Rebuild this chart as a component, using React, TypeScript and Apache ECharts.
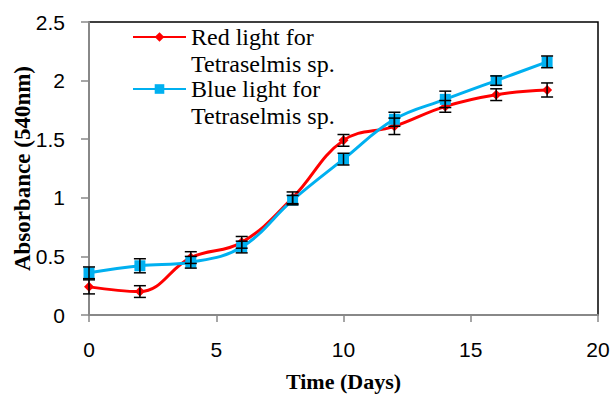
import React, { useEffect, useRef } from "react";
import * as echarts from "echarts";

const days = [0, 2, 4, 6, 8, 10, 12, 14, 16, 18];
const redValues = [0.24, 0.2, 0.49, 0.62, 1.0, 1.49, 1.61, 1.78, 1.88, 1.92];
const redErrors = [0.06, 0.05, 0.05, 0.05, 0.05, 0.05, 0.07, 0.05, 0.05, 0.06];
const blueValues = [0.36, 0.42, 0.45, 0.58, 0.98, 1.33, 1.67, 1.84, 2.0, 2.16];
const blueErrors = [0.05, 0.06, 0.05, 0.05, 0.04, 0.05, 0.06, 0.07, 0.04, 0.05];
const redName = "Red light for\nTetraselmis sp.";
const blueName = "Blue light for\nTetraselmis sp.";

const serif = "Liberation Serif";
const sans = "Liberation Sans";

function errorSeries(values: number[], errors: number[]) {
  return {
    type: "custom",
    z: 5,
    silent: true,
    data: days.map((d, i) => [d, values[i] - errors[i], values[i] + errors[i]]),
    renderItem: (params: any, api: any) => {
      const x = api.value(0);
      const lo = api.coord([x, api.value(1)]);
      const hi = api.coord([x, api.value(2)]);
      const w = 6;
      const style = { stroke: "#000", lineWidth: 1.5 };
      return {
        type: "group",
        children: [
          { type: "line", shape: { x1: lo[0], y1: lo[1], x2: hi[0], y2: hi[1] }, style },
          { type: "line", shape: { x1: lo[0] - w, y1: lo[1], x2: lo[0] + w, y2: lo[1] }, style },
          { type: "line", shape: { x1: hi[0] - w, y1: hi[1], x2: hi[0] + w, y2: hi[1] }, style },
        ],
      };
    },
  };
}

export default function App() {
  const ref = useRef<HTMLDivElement>(null);
  useEffect(() => {
    if (!ref.current) return;
    const chart = echarts.init(ref.current, null, { renderer: "svg" });
    chart.setOption({
      animation: false,
      backgroundColor: "#fff",
      grid: {
        left: 89,
        right: 13,
        top: 22,
        bottom: 80,
        show: true,
        borderColor: "#000",
        borderWidth: 1.5,
        outerBoundsMode: "none",
        containLabel: false,
      },
      legend: {
        data: [redName, blueName],
        orient: "vertical",
        left: 132,
        top: -2,
        padding: 0,
        itemWidth: 53,
        itemHeight: 12,
        itemGap: -26,
        formatter: (name: string) => {
          const parts = name.split("\n");
          return "{t| }\n{t|" + parts[0] + "}\n{t|" + parts[1] + "}";
        },
        textStyle: {
          fontFamily: serif,
          fontSize: 24,
          color: "#000",
          rich: { t: { fontFamily: serif, fontSize: 24, lineHeight: 27, color: "#000" } },
        },
      },
      xAxis: {
        type: "value",
        min: 0,
        max: 20,
        interval: 5,
        name: "Time (Days)",
        nameLocation: "middle",
        nameGap: 55,
        nameMoveOverlap: false,
        nameTextStyle: { fontFamily: serif, fontSize: 22, fontWeight: "bold", color: "#000" },
        axisLine: { lineStyle: { color: "#888", width: 2 } },
        axisTick: { show: true, length: 7, lineStyle: { color: "#888", width: 1.5 } },
        axisLabel: { fontFamily: sans, fontSize: 21, color: "#000", margin: 24 },
        splitLine: { show: false },
      },
      yAxis: {
        type: "value",
        min: 0,
        max: 2.5,
        interval: 0.5,
        name: "Absorbance (540nm)",
        nameLocation: "middle",
        nameGap: 55,
        nameMoveOverlap: false,
        nameTextStyle: { fontFamily: serif, fontSize: 23, fontWeight: "bold", color: "#000" },
        axisLine: { show: true, lineStyle: { color: "#888", width: 2 } },
        axisTick: { show: true, length: 8, lineStyle: { color: "#888", width: 1.5 } },
        axisLabel: { fontFamily: sans, fontSize: 21, color: "#000", margin: 24 },
        splitLine: { show: false },
      },
      series: [
        {
          name: redName,
          type: "line",
          smooth: 0.4,
          data: days.map((d, i) => [d, redValues[i]]),
          symbol: "diamond",
          symbolSize: 10,
          itemStyle: { color: "#FF0000" },
          lineStyle: { color: "#FF0000", width: 3 },
          z: 3,
        },
        {
          name: blueName,
          type: "line",
          smooth: 0.4,
          data: days.map((d, i) => [d, blueValues[i]]),
          symbol: "rect",
          symbolSize: 11,
          itemStyle: { color: "#00B0F0" },
          lineStyle: { color: "#00B0F0", width: 3 },
          z: 4,
        },
        errorSeries(redValues, redErrors),
        errorSeries(blueValues, blueErrors),
      ],
    });
    return () => chart.dispose();
  }, []);
  return <div ref={ref} style={{ width: 611, height: 395, position: "absolute", left: 0, top: 0 }} />;
}
